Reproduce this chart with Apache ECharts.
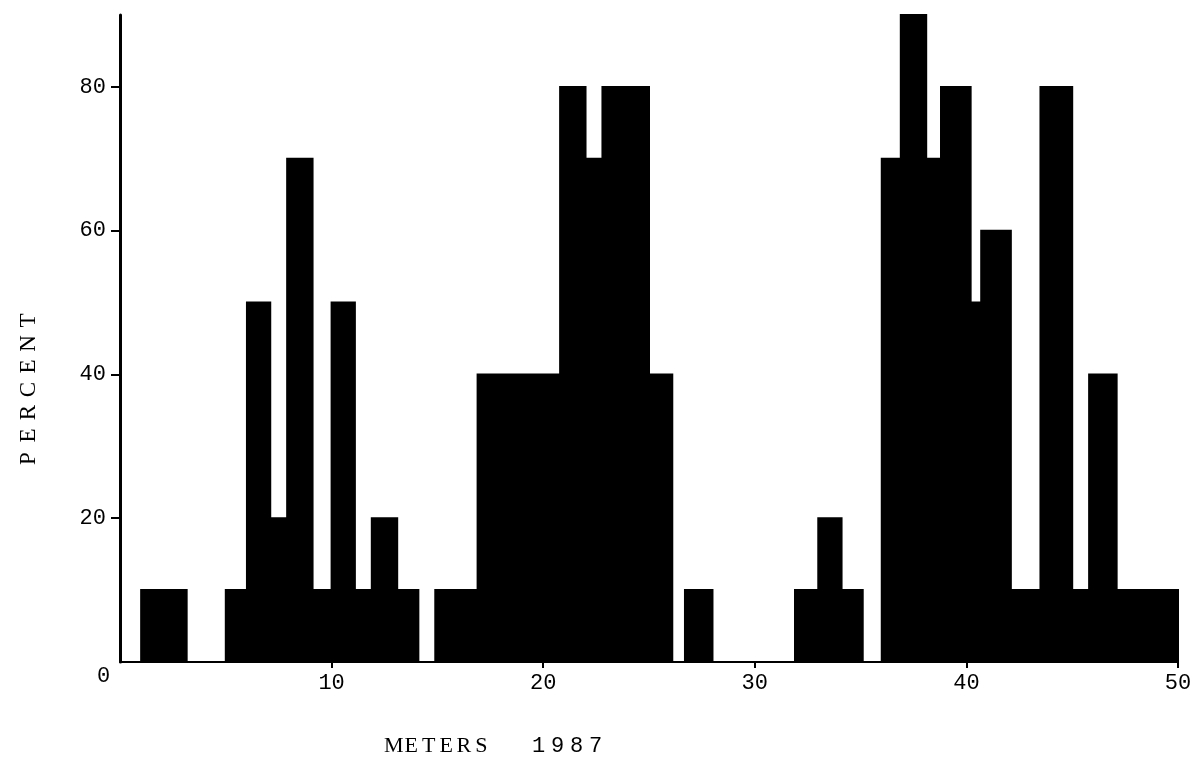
<!DOCTYPE html>
<html>
<head>
<meta charset="utf-8">
<title>PERCENT / METERS 1987</title>
<script src="https://cdn.jsdelivr.net/npm/echarts@6/dist/echarts.min.js"></script>
<style>
  html, body { margin: 0; padding: 0; background: #fff; }
  #chart { width: 1204px; height: 771px; }
</style>
</head>
<body>
<div id="chart"></div>
<script>
// bins as drawn on the sheet: start / end in meters, height in percent
const binStart = [1.0, 5.0, 6.0, 7.1, 7.9, 9.1, 10.0, 11.1, 11.9, 13.1,
  14.9, 16.9, 20.8, 22.0, 22.8, 25.0, 26.7, 31.9, 33.0, 34.1,
  36.0, 36.9, 38.1, 38.8, 40.2, 40.7, 42.1, 43.5, 45.0, 45.8, 47.1]
const binEnd = [3.15, 6.0, 7.1, 7.9, 9.1, 10.0, 11.1, 11.9, 13.1, 14.1,
  16.9, 20.8, 22.0, 22.8, 25.0, 26.1, 28.0, 33.0, 34.1, 35.1,
  36.9, 38.1, 38.8, 40.2, 40.7, 42.1, 43.5, 45.0, 45.8, 47.1, 50.0]
const percent = [10, 10, 50, 20, 70, 10, 50, 10, 20, 10,
  10, 40, 80, 70, 80, 40, 10, 10, 20, 10,
  70, 90, 70, 80, 50, 60, 10, 80, 10, 40, 10]
const xTicks = [10, 20, 30, 40, 50]
const yTicks = [20, 40, 60, 80]

let myChart = echarts.init(document.getElementById('chart'))

// typewriter pitch: every letter sits in a box of the same width
function spaced(str, key) {
  return str.split('').map(c => '{' + key + '|' + (c === ' ' ? '\u00a0' : c) + '}').join('')
}

let option = {
  backgroundColor: '#fff',
  animation: false,
  grid: {
    left: 120,
    right: 26,
    top: 15,
    bottom: 109
  },
  xAxis: {
    type: 'value',
    min: 0,
    max: 50,
    axisLine: {
      lineStyle: { color: '#000', width: 2 }
    },
    axisTick: {
      show: true,
      length: 6,
      customValues: xTicks,
      lineStyle: { color: '#000', width: 2 }
    },
    axisLabel: {
      customValues: xTicks,
      margin: 10,
      color: '#000',
      fontFamily: 'Liberation Mono',
      fontSize: 22
    },
    splitLine: { show: false }
  },
  yAxis: {
    type: 'value',
    min: 0,
    max: 90,
    axisLine: {
      show: true,
      lineStyle: { color: '#000', width: 3 }
    },
    axisTick: {
      show: true,
      length: 9,
      customValues: yTicks,
      lineStyle: { color: '#000', width: 2 }
    },
    axisLabel: {
      customValues: yTicks,
      margin: 14,
      color: '#000',
      fontFamily: 'Liberation Mono',
      fontSize: 22
    },
    splitLine: { show: false }
  },
  graphic: [
    {
      type: 'text',
      left: 97,
      top: 665,
      style: {
        text: '0',
        fill: '#000',
        font: '22px "Liberation Mono"'
      }
    },
    {
      type: 'text',
      x: 17,
      y: 470,
      rotation: Math.PI / 2,
      style: {
        text: spaced('PERCENT', 'c'),
        fill: '#000',
        font: '23px "Liberation Serif"',
        rich: {
          c: { width: 23, align: 'center', fontFamily: 'Liberation Serif', fontSize: 23 }
        }
      }
    },
    {
      type: 'text',
      left: 384,
      top: 735,
      style: {
        text: spaced('METERS', 'c') + spaced('   ', 's') + spaced('1987', 'd'),
        fill: '#000',
        font: '23px "Liberation Serif"',
        rich: {
          c: { width: 17.5, align: 'center', fontFamily: 'Liberation Serif', fontSize: 22 },
          s: { width: 13, align: 'center', fontSize: 22 },
          d: { width: 19, align: 'center', fontFamily: 'Liberation Mono', fontSize: 22 }
        }
      }
    }
  ],
  series: [
    {
      name: 'PERCENT',
      type: 'custom',
      data: binStart.map((s, i) => [s, binEnd[i], percent[i]]),
      encode: { x: [0, 1], y: 2 },
      renderItem: (params, api) => {
        let top = api.coord([api.value(0), api.value(2)])
        let bottom = api.coord([api.value(1), 0])
        return {
          type: 'rect',
          shape: {
            x: top[0],
            y: top[1],
            width: bottom[0] - top[0],
            height: bottom[1] - top[1]
          },
          // stroke in the same black hides the seams between touching bins
          style: { fill: '#000', stroke: '#000', lineWidth: 2 }
        }
      }
    }
  ]
}

myChart.setOption(option)
</script>
</body>
</html>
